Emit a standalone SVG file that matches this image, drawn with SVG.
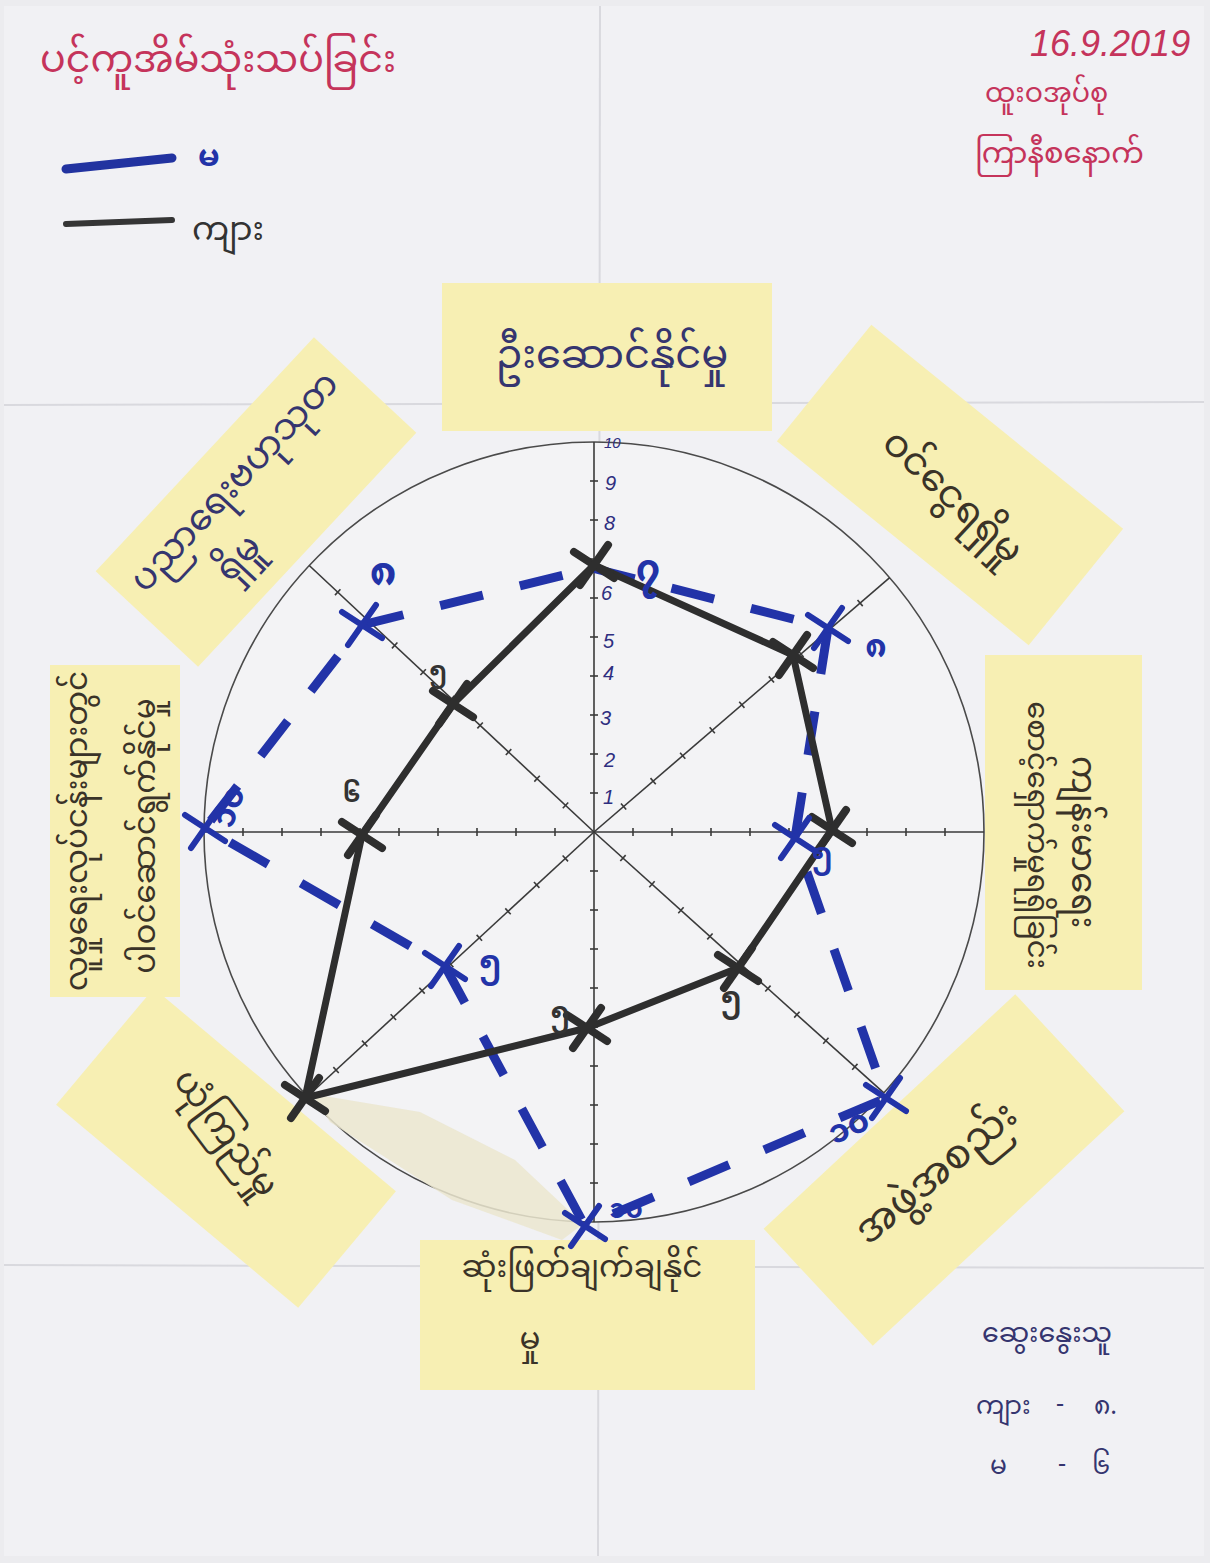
<svg xmlns="http://www.w3.org/2000/svg" xmlns:xlink="http://www.w3.org/1999/xlink" width="1210" height="1563" viewBox="0 0 1210 1563">
<style>
.my{font-family:"Noto Sans Myanmar","Padauk","Myanmar Text","Noto Sans","DejaVu Sans",sans-serif;}
.lat{font-family:"Liberation Sans","DejaVu Sans",sans-serif;}
.note{fill:#f7efb3;}
.ink{fill:#3a3328;}
.navy{fill:#35356f;}
.red{fill:#c5345b;}
.axis{stroke:#3a3a3a;stroke-width:1.6;fill:none;}
.tick{stroke:#3a3a3a;stroke-width:1.6;}
.crease{stroke:#d9d9de;stroke-width:2;fill:none;}
.men{fill:none;stroke:#2e2e2e;stroke-width:7;stroke-linejoin:round;}
.women{fill:none;stroke:#2233a8;stroke-width:9;stroke-dasharray:44 38;}
.xb{stroke:#2e2e2e;stroke-width:8;stroke-linecap:round;}
.xw{stroke:#2233a8;stroke-width:6;stroke-linecap:round;}
</style>
<defs>
<g id="ray">
<line x1="0" y1="0" x2="390" y2="0" class="axis"/>
<g class="tick">
<line x1="39" y1="-4" x2="39" y2="4"/><line x1="78" y1="-4" x2="78" y2="4"/><line x1="117" y1="-4" x2="117" y2="4"/>
<line x1="156" y1="-4" x2="156" y2="4"/><line x1="195" y1="-4" x2="195" y2="4"/><line x1="234" y1="-4" x2="234" y2="4"/>
<line x1="273" y1="-4" x2="273" y2="4"/><line x1="312" y1="-4" x2="312" y2="4"/><line x1="351" y1="-4" x2="351" y2="4"/>
</g>
</g>
<g id="xmark"><line x1="-20" y1="-13" x2="20" y2="13"/><line x1="-14" y1="20" x2="14" y2="-20"/></g>
</defs>

<!-- paper -->
<rect x="0" y="0" width="1210" height="1563" fill="#ececef"/>
<rect x="4" y="6" width="1200" height="1550" fill="#f1f1f4"/>
<g id="creases">
<line class="crease" x1="600" y1="6" x2="598" y2="1556"/>
<line class="crease" x1="4" y1="405" x2="1204" y2="402"/>
<line class="crease" x1="4" y1="1265" x2="1204" y2="1268"/>
</g>

<!-- header -->
<g id="title">
<text class="my red" x="40" y="72" font-size="38">ပင့်ကူအိမ်သုံးသပ်ခြင်း</text>
</g>
<g id="date">
<text class="lat red" x="1030" y="56" font-size="36" font-style="italic">16.9.2019</text>
<text class="my red" x="985" y="102" font-size="27">ထူးဝအုပ်စု</text>
<text class="my red" x="975" y="163" font-size="29">ကြာနီစနောက်</text>
</g>
<g id="legend">
<line x1="66" y1="169" x2="172" y2="158" stroke="#2233a0" stroke-width="9" stroke-linecap="round"/>
<text class="my" x="198" y="166" font-size="31" fill="#2233a8" font-weight="bold">မ</text>
<line x1="66" y1="224" x2="172" y2="220" stroke="#353535" stroke-width="6" stroke-linecap="round"/>
<text class="my" x="192" y="240" font-size="33" fill="#333">ကျား</text>
</g>

<!-- sticky notes -->
<g id="note-top">
<rect class="note" x="442" y="283" width="330" height="148"/>
<text class="my navy" x="612" y="358" font-size="40" text-anchor="middle" dominant-baseline="central">ဦးဆောင်နိုင်မှု</text>
</g>
<g id="note-top-right" transform="translate(950,485) rotate(39)">
<rect class="note" x="-162" y="-75" width="324" height="150"/>
<text class="my ink" x="10" y="10" font-size="38" text-anchor="middle" dominant-baseline="central" transform="rotate(4)">ဝင်ငွေရရှိမှု</text>
</g>
<g id="note-right">
<rect class="note" x="985" y="655" width="157" height="335"/>
<text class="my ink" transform="translate(1080,842) rotate(90)" font-size="34" text-anchor="middle" dominant-baseline="central">ကျန်းမာရေး</text>
<text class="my ink" transform="translate(1034,835) rotate(90)" font-size="29" text-anchor="middle" dominant-baseline="central">စောင့်ရှောက်မှုရရှိခြင်း</text>
</g>
<g id="note-bottom-right" transform="translate(944,1170) rotate(-43)">
<rect class="note" x="-172" y="-80" width="344" height="160"/>
<text class="my ink" x="-8" y="0" font-size="40" text-anchor="middle" dominant-baseline="central" transform="rotate(3)">အဖွဲ့အစည်း</text>
</g>
<g id="note-bottom">
<rect class="note" x="420" y="1240" width="335" height="150"/>
<text class="my ink" x="582" y="1270" font-size="31" text-anchor="middle" dominant-baseline="central">ဆုံးဖြတ်ချက်ချနိုင်</text>
<text class="my ink" x="530" y="1342" font-size="31" text-anchor="middle" dominant-baseline="central">မှု</text>
</g>
<g id="note-bottom-left" transform="translate(226,1148) rotate(40)">
<rect class="note" x="-158" y="-76" width="316" height="152"/>
<text class="my ink" x="-12" y="-6" font-size="35" text-anchor="middle" dominant-baseline="central" transform="rotate(13)">ယုံကြည်မှု</text>
</g>
<g id="note-left">
<rect class="note" x="50" y="665" width="130" height="332"/>
<text class="my ink" transform="translate(80,831) rotate(-90)" font-size="31" text-anchor="middle" dominant-baseline="central">လူမှုရေးလုပ်ငန်းများတွင်</text>
<text class="my ink" transform="translate(148,836) rotate(-90)" font-size="31" text-anchor="middle" dominant-baseline="central">ပါဝင်ဆောင်ရွက်နိုင်မှု</text>
</g>
<g id="note-top-left" transform="translate(256,502) rotate(-47)">
<rect class="note" x="-160" y="-70" width="320" height="140"/>
<text class="my navy" x="0" y="-27" font-size="36" text-anchor="middle" dominant-baseline="central">ပညာရေးဗဟုသုတ</text>
<text class="my navy" x="-53" y="28" font-size="36" text-anchor="middle" dominant-baseline="central">ရှိမှု</text>
</g>

<!-- chart frame -->
<g id="chart">
<circle cx="594" cy="832" r="390" fill="#f3f3f5" stroke="#4a4a4a" stroke-width="1.6"/>
<use xlink:href="#ray" transform="translate(594,832)"/>
<use xlink:href="#ray" transform="translate(594,832) rotate(180)"/>
<use xlink:href="#ray" transform="translate(594,832) rotate(-90)"/>
<use xlink:href="#ray" transform="translate(594,832) rotate(90)"/>
<use xlink:href="#ray" transform="translate(594,832) rotate(-40.7)"/>
<use xlink:href="#ray" transform="translate(594,832) rotate(-136.9)"/>
<use xlink:href="#ray" transform="translate(594,832) rotate(42)"/>
<use xlink:href="#ray" transform="translate(594,832) rotate(137.3)"/>
<g class="lat" font-size="20" fill="#2e2e80" font-style="italic">
<text x="603" y="804">1</text>
<text x="604" y="767">2</text>
<text x="600" y="725">3</text>
<text x="603" y="680">4</text>
<text x="603" y="648">5</text>
<text x="601" y="600">6</text>
<text x="604" y="530">8</text>
<text x="605" y="490">9</text>
<text x="604" y="448" font-size="15">10</text>
</g>
</g>
<polygon id="tape" points="312,1094 420,1112 515,1160 583,1224 562,1240 452,1200 330,1122" fill="#ebe6cf" opacity="0.85"/>

<!-- connectors: the two profiles -->
<g id="connectors">
<polygon class="women" points="592,568 828,628 795,838 886,1098 585,1226 445,966 205,828 362,625"/>
<polygon class="men" points="594,565 793,655 832,830 738,968 587,1028 305,1098 362,835 453,704"/>
</g>

<!-- point marks -->
<g id="marks-men" class="xb">
<use xlink:href="#xmark" x="594" y="565"/>
<use xlink:href="#xmark" x="793" y="655"/>
<use xlink:href="#xmark" x="832" y="830"/>
<use xlink:href="#xmark" x="738" y="968"/>
<use xlink:href="#xmark" x="587" y="1028"/>
<use xlink:href="#xmark" x="305" y="1098"/>
<use xlink:href="#xmark" x="362" y="835"/>
<use xlink:href="#xmark" x="453" y="704"/>
</g>
<g id="marks-women" class="xw">
<use xlink:href="#xmark" x="828" y="628"/>
<use xlink:href="#xmark" x="795" y="838"/>
<use xlink:href="#xmark" x="886" y="1098"/>
<use xlink:href="#xmark" x="585" y="1226"/>
<use xlink:href="#xmark" x="445" y="966"/>
<use xlink:href="#xmark" x="205" y="828"/>
<use xlink:href="#xmark" x="362" y="625"/>
</g>

<!-- value labels -->
<g id="labels" class="my" font-weight="bold">
<text x="648" y="572" font-size="38" fill="#2233a8" text-anchor="middle" dominant-baseline="central">၇</text>
<text x="876" y="650" font-size="32" fill="#2233a8" text-anchor="middle" dominant-baseline="central">၈</text>
<text x="822" y="856" font-size="28" fill="#2233a8" text-anchor="middle" dominant-baseline="central">၅</text>
<text x="731" y="1000" font-size="28" fill="#333" text-anchor="middle" dominant-baseline="central">၅</text>
<text x="850" y="1130" font-size="32" fill="#2233a8" text-anchor="middle" dominant-baseline="central" transform="rotate(-25,850,1130)">၁၀</text>
<text x="560" y="1015" font-size="26" fill="#333" text-anchor="middle" dominant-baseline="central">၅</text>
<text x="626" y="1212" font-size="26" fill="#2233a8" text-anchor="middle" dominant-baseline="central">၁၀</text>
<text x="490" y="965" font-size="30" fill="#2233a8" text-anchor="middle" dominant-baseline="central">၅</text>
<text x="352" y="796" font-size="24" fill="#333" text-anchor="middle" dominant-baseline="central">၆</text>
<text x="232" y="808" font-size="32" fill="#2233a8" text-anchor="middle" dominant-baseline="central" transform="rotate(-70,232,808)">၁၀</text>
<text x="438" y="672" font-size="24" fill="#333" text-anchor="middle" dominant-baseline="central">၅</text>
<text x="383" y="575" font-size="40" fill="#2233a8" text-anchor="middle" dominant-baseline="central">၈</text>
</g>

<!-- respondents -->
<g id="respondents" class="my navy">
<text x="982" y="1342" font-size="27">ဆွေးနွေးသူ</text>
<text x="976" y="1414" font-size="25">ကျား</text>
<text x="1056" y="1412" font-size="25">-</text>
<text x="1094" y="1414" font-size="25">၈.</text>
<text x="990" y="1474" font-size="25">မ</text>
<text x="1058" y="1472" font-size="25">-</text>
<text x="1092" y="1474" font-size="25">၆</text>
</g>
</svg>
